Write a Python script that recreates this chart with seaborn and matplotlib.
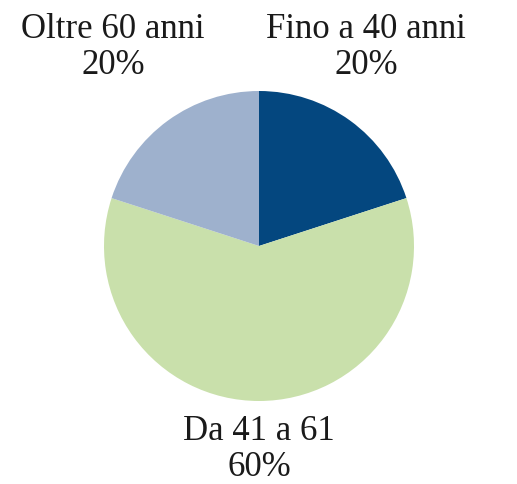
import matplotlib
matplotlib.use("Agg")
import matplotlib.pyplot as plt
import seaborn as sns

# data
categories = ["Fino a 40 anni", "Da 41 a 61", "Oltre 60 anni"]
shares = [20, 60, 20]
colors = ["#04477f", "#c9e0ab", "#9eb1cd"]

# label anchor points in pixels (x from left, y from top)
label_pos = [(366, 47), (259, 449), (113, 47)]


def set_plotting_style():
    sns.set_theme(style="white")
    plt.rcParams['font.family'] = ['Liberation Serif', 'DejaVu Serif']


def plot_age_pie(out_path="out.png"):
    set_plotting_style()
    width, height = 517, 484
    fig = plt.figure(figsize=(width / 100, height / 100), dpi=100)
    ax = fig.add_axes([0, 0, 1, 1])

    ax.pie(shares, colors=sns.color_palette(colors), startangle=90,
           counterclock=False, center=(259, height - 246), radius=155,
           wedgeprops=dict(linewidth=0))

    for name, val, (x, y) in zip(categories, shares, label_pos):
        ax.text(x, height - y, f"{name}\n{val}%", ha="center", va="center",
                fontsize=25, color="#1a1a1a", linespacing=1.12)

    ax.set_xlim(0, width)
    ax.set_ylim(0, height)
    ax.set_aspect("equal")
    ax.axis("off")
    fig.savefig(out_path, dpi=100, facecolor="white")
    return fig


if __name__ == "__main__":
    plot_age_pie()
